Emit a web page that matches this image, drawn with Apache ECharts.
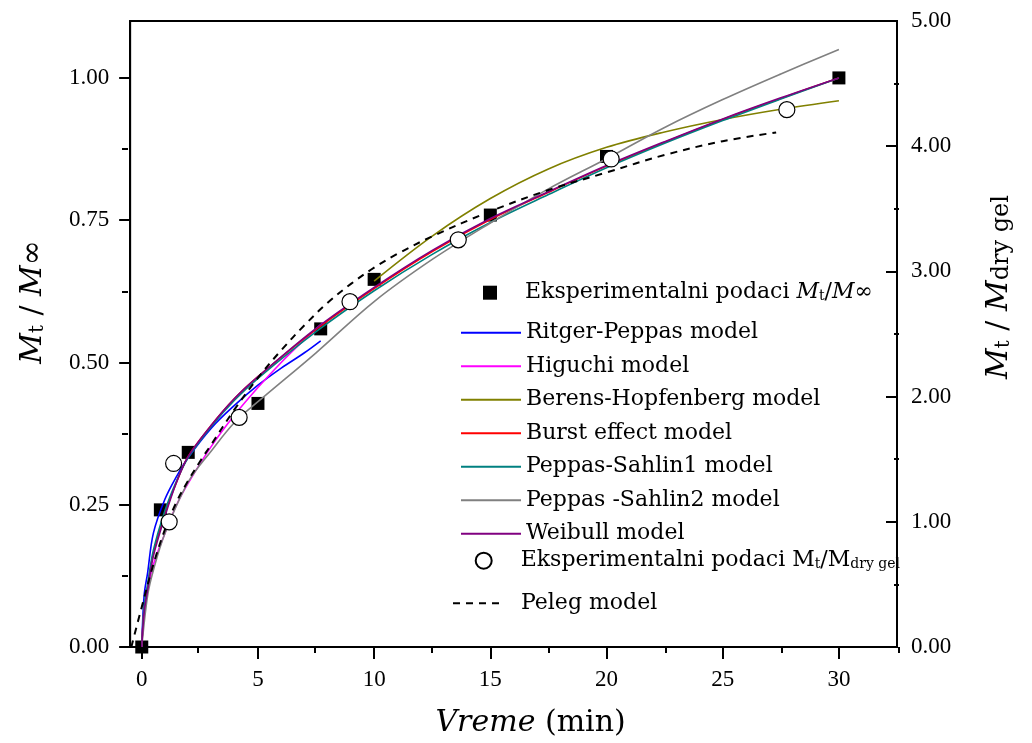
<!DOCTYPE html>
<html>
<head>
<meta charset="utf-8">
<script src="https://cdn.jsdelivr.net/npm/echarts@6/dist/echarts.min.js"></script>
<style>
  html, body { margin: 0; padding: 0; background: #fff; }
  #chart { width: 1032px; height: 743px; }
</style>
</head>
<body>
<div id="chart"></div>
<script>
// Axis tick positions
const xTicks = [0, 5, 10, 15, 20, 25, 30];
const xMinorTicks = [2.5, 7.5, 12.5, 17.5, 22.5, 27.5, 32.5];
const leftTicks = [0, 0.25, 0.5, 0.75, 1.0];
const leftMinorTicks = [0.125, 0.375, 0.625, 0.875];
const rightTicks = [0, 1, 2, 3, 4, 5];
const rightMinorTicks = [0.5, 1.5, 2.5, 3.5, 4.5];

// Experimental release Mt/M∞ (left axis)
const tExp = [0, 0.8, 2, 5, 7.7, 10, 15, 20, 30];
const mtMinf = [0, 0.241, 0.342, 0.428, 0.559, 0.646, 0.759, 0.862, 1.0];

// Experimental swelling Mt/Mdry gel (right axis)
const tDry = [1.18, 1.37, 4.19, 8.96, 13.62, 20.2, 27.76];
const mtMdry = [1.0, 1.466, 1.834, 2.758, 3.252, 3.898, 4.292];

// Fitted model curves (left axis)
const tRitger = [0, 0.1, 0.25, 0.5, 1, 1.5, 2, 3, 4, 5, 6, 7, 7.7];
const ritger = [0, 0.09, 0.13, 0.2, 0.26, 0.3, 0.333, 0.385, 0.425, 0.46, 0.49, 0.517, 0.538];

const tHiguchi = [0, 0.1, 0.25, 0.5, 1, 1.5, 2, 3, 4, 5, 6, 7, 7.8];
const higuchi = [0, 0.065, 0.1, 0.145, 0.2, 0.25, 0.288, 0.353, 0.408, 0.456, 0.5, 0.54, 0.57];

const tBerens = [10, 12.5, 15, 17.5, 20, 22.5, 25, 27.5, 30];
const berens = [0.643, 0.722, 0.788, 0.84, 0.878, 0.905, 0.927, 0.945, 0.96];

const tModel = [0, 0.1, 0.25, 0.5, 1, 1.5, 2, 3, 4, 5, 7.5, 10, 12.5, 15, 17.5, 20, 22.5, 25, 27.5, 30];
const burst = [0, 0.065, 0.105, 0.165, 0.235, 0.29, 0.335, 0.39, 0.437, 0.475, 0.558, 0.63, 0.695, 0.751, 0.799, 0.845, 0.887, 0.927, 0.964, 1.0];
const sahlin1 = [0, 0.07, 0.11, 0.17, 0.24, 0.292, 0.333, 0.388, 0.434, 0.472, 0.554, 0.626, 0.69, 0.746, 0.795, 0.842, 0.885, 0.925, 0.963, 1.0];
const weibull = [0, 0.06, 0.1, 0.16, 0.23, 0.29, 0.335, 0.39, 0.437, 0.475, 0.56, 0.632, 0.697, 0.753, 0.8, 0.846, 0.888, 0.928, 0.965, 1.0];

const tSahlin2 = [0, 0.25, 0.5, 1, 2, 3, 4, 5, 7.5, 10, 12.5, 15, 17.5, 20, 22.5, 25, 27.5, 30];
const sahlin2 = [0, 0.09, 0.135, 0.2, 0.29, 0.345, 0.395, 0.431, 0.517, 0.607, 0.681, 0.745, 0.805, 0.858, 0.913, 0.962, 1.007, 1.05];

// Peleg model (right axis)
const tPeleg = [-0.45, 0, 0.5, 1, 1.5, 2, 2.5, 3, 4, 5, 6, 7, 8, 9, 10, 11, 12.5, 15, 17.5, 20, 22.5, 25, 27.3];
const peleg = [0, 0.32, 0.66, 0.94, 1.16, 1.33, 1.48, 1.62, 1.9, 2.15, 2.37, 2.57, 2.75, 2.9, 3.03, 3.14, 3.28, 3.48, 3.65, 3.79, 3.93, 4.04, 4.11];

const FONT = 'DejaVu Serif';
const NUM_FONT = 'Liberation Serif';

const pairs = (xs, ys) => xs.map((x, i) => [x, ys[i]]);

const names = {
  sq: 'Eksperimentalni podaci Mt/M∞',
  ritger: 'Ritger-Peppas model',
  higuchi: 'Higuchi model',
  berens: 'Berens-Hopfenberg model',
  burst: 'Burst effect model',
  ps1: 'Peppas-Sahlin1 model',
  ps2: 'Peppas -Sahlin2 model',
  weibull: 'Weibull model',
  circ: 'Eksperimentalni podaci Mt/Mdry gel',
  peleg: 'Peleg model'
};

// Rich-text labels with subscripts
const richLabels = {};
richLabels[names.sq] = '{n|Eksperimentalni podaci }{i|M}{s|t}{n|/}{i|M}{n|∞}';
richLabels[names.circ] = '{n|Eksperimentalni podaci M}{s|t}{n|/M}{s|dry gel}';

const legendRich = {
  n: { fontFamily: FONT, fontSize: 22, lineHeight: 22, padding: [9, 0, 9, 0], color: '#000' },
  i: { fontFamily: FONT, fontSize: 22, lineHeight: 22, padding: [9, 0, 9, 0], fontStyle: 'italic', color: '#000' },
  s: { fontFamily: FONT, fontSize: 14, lineHeight: 14, verticalAlign: 'bottom', color: '#000' }
};

const titleRich = {
  n: { fontFamily: FONT, fontSize: 30, lineHeight: 30, padding: [10, 0, 10, 0], color: '#000' },
  i: { fontFamily: FONT, fontSize: 30, lineHeight: 30, padding: [10, 0, 10, 0], fontStyle: 'italic', color: '#000' },
  s: { fontFamily: FONT, fontSize: 20, lineHeight: 20, verticalAlign: 'bottom', color: '#000' },
  d: { fontFamily: FONT, fontSize: 24, lineHeight: 24, verticalAlign: 'bottom', color: '#000' }
};

function modelLine(name, xs, ys, color) {
  return {
    name, type: 'line', xAxisIndex: 0, yAxisIndex: 0,
    data: pairs(xs, ys), smooth: 0.35,
    symbol: 'none', z: 3,
    lineStyle: { color, width: 1.6 }, itemStyle: { color }
  };
}

const tickStyle = { color: '#000', width: 2 };
const numLabel = { fontFamily: NUM_FONT, fontSize: 23, color: '#000' };

const option = {
  animation: false,
  backgroundColor: '#fff',
  grid: [
    { left: 128, right: 133, top: 21, bottom: 96, show: true, borderColor: '#000', borderWidth: 2, backgroundColor: 'transparent' },
    { left: 128, right: 133, top: 21, bottom: 96 }
  ],
  xAxis: [
    {
      type: 'value', gridIndex: 0, position: 'bottom', min: -0.5, max: 32.5,
      axisLine: { show: true, onZero: false, lineStyle: tickStyle },
      axisTick: { show: true, length: 12, lineStyle: tickStyle, customValues: xTicks },
      axisLabel: Object.assign({ customValues: xTicks, margin: 21 }, numLabel),
      splitLine: { show: false },
      name: '{i|Vreme}{n| (min)}', nameLocation: 'middle', nameGap: 61,
      nameTextStyle: {
        padding: [0, 0, 0, 34],
        rich: {
          i: { fontFamily: FONT, fontSize: 30, fontStyle: 'italic', color: '#000' },
          n: { fontFamily: FONT, fontSize: 30, color: '#000' }
        }
      }
    },
    {
      type: 'value', gridIndex: 1, position: 'bottom', min: -0.5, max: 32.5,
      axisLine: { show: false, onZero: false }, axisLabel: { show: false }, splitLine: { show: false },
      axisTick: { show: true, length: 6, lineStyle: tickStyle, customValues: xMinorTicks }
    }
  ],
  yAxis: [
    {
      type: 'value', gridIndex: 0, position: 'left', min: 0, max: 1.1,
      axisLine: { show: true, onZero: false, lineStyle: tickStyle },
      axisTick: { show: true, length: 11, lineStyle: tickStyle, customValues: leftTicks },
      axisLabel: Object.assign({ customValues: leftTicks, margin: 21, formatter: v => v.toFixed(2) }, numLabel),
      splitLine: { show: false },
      name: '{i|M}{s|t}{n| / }{i|M}{n|∞}', nameLocation: 'middle', nameGap: 78, nameRotate: 90,
      nameTextStyle: { rich: titleRich, padding: [0, 0, 0, 64] }
    },
    {
      type: 'value', gridIndex: 0, position: 'right', min: 0, max: 5,
      axisLine: { show: true, onZero: false, lineStyle: tickStyle },
      axisTick: { show: true, inside: true, length: 11, lineStyle: tickStyle, customValues: rightTicks },
      axisLabel: Object.assign({ customValues: rightTicks, margin: 14, formatter: v => v.toFixed(2) }, numLabel),
      splitLine: { show: false },
      name: '{i|M}{s|t}{n| / }{i|M}{d|dry gel}', nameLocation: 'middle', nameGap: 87, nameRotate: 90,
      nameTextStyle: { rich: titleRich, padding: [0, 0, 0, 94] }
    },
    {
      type: 'value', gridIndex: 1, position: 'left', min: 0, max: 1.1,
      axisLine: { show: false, onZero: false }, axisLabel: { show: false }, splitLine: { show: false },
      axisTick: { show: true, length: 6, lineStyle: tickStyle, customValues: leftMinorTicks }
    },
    {
      type: 'value', gridIndex: 1, position: 'right', min: 0, max: 5,
      axisLine: { show: false, onZero: false }, axisLabel: { show: false }, splitLine: { show: false },
      axisTick: { show: true, inside: true, length: 5, lineStyle: tickStyle, customValues: rightMinorTicks }
    }
  ],
  legend: [
    {
      data: [names.sq], orient: 'vertical', left: 483, top: 272.7, padding: 0,
      itemWidth: 14, itemHeight: 14, selectedMode: false,
      formatter: n => richLabels[n] || n,
      textStyle: { fontFamily: FONT, fontSize: 22, color: '#000', rich: legendRich, padding: [0, 0, 0, 23] }
    },
    {
      data: [names.ritger, names.higuchi, names.berens, names.burst, names.ps1, names.ps2, names.weibull],
      orient: 'vertical', left: 460, top: 321.7, padding: 0, itemGap: 11.5,
      itemWidth: 60, itemHeight: 14, selectedMode: false,
      itemStyle: { opacity: 0 },
      textStyle: { fontFamily: FONT, fontSize: 22, lineHeight: 22, color: '#000' }
    },
    {
      data: [names.circ], orient: 'vertical', left: 474.7, top: 540.7, padding: 0,
      itemWidth: 16, itemHeight: 16, selectedMode: false,
      formatter: n => richLabels[n] || n,
      textStyle: { fontFamily: FONT, fontSize: 22, color: '#000', rich: legendRich, padding: [0, 0, 0, 24] }
    },
    {
      data: [names.peleg], orient: 'vertical', left: 452, top: 592.3, padding: 0,
      itemWidth: 52, itemHeight: 14, selectedMode: false,
      itemStyle: { opacity: 0 },
      textStyle: { fontFamily: FONT, fontSize: 22, lineHeight: 22, color: '#000', padding: [0, 0, 0, 11] }
    }
  ],
  series: [
    {
      name: names.sq, type: 'scatter', xAxisIndex: 0, yAxisIndex: 0,
      data: pairs(tExp, mtMinf), symbol: 'rect', symbolSize: 13, z: 2,
      itemStyle: { color: '#000', opacity: 1 }
    },
    modelLine(names.ritger, tRitger, ritger, '#0000ff'),
    modelLine(names.higuchi, tHiguchi, higuchi, '#ff00ff'),
    modelLine(names.berens, tBerens, berens, '#808000'),
    modelLine(names.burst, tModel, burst, '#ff0000'),
    modelLine(names.ps1, tModel, sahlin1, '#008080'),
    modelLine(names.ps2, tSahlin2, sahlin2, '#808080'),
    modelLine(names.weibull, tModel, weibull, '#800080'),
    {
      name: names.peleg, type: 'line', xAxisIndex: 0, yAxisIndex: 1,
      data: pairs(tPeleg, peleg), smooth: 0.35,
      symbol: 'none', z: 4,
      lineStyle: { color: '#000', width: 2, type: [7, 6] }, itemStyle: { color: '#000' }
    },
    {
      name: names.circ, type: 'scatter', xAxisIndex: 0, yAxisIndex: 1,
      data: pairs(tDry, mtMdry), symbol: 'circle', symbolSize: 16, z: 5,
      itemStyle: { color: '#fff', borderColor: '#000', borderWidth: 1.2, opacity: 1 }
    }
  ]
};

const chart = echarts.init(document.getElementById('chart'));
chart.setOption(option);
</script>
</body>
</html>
